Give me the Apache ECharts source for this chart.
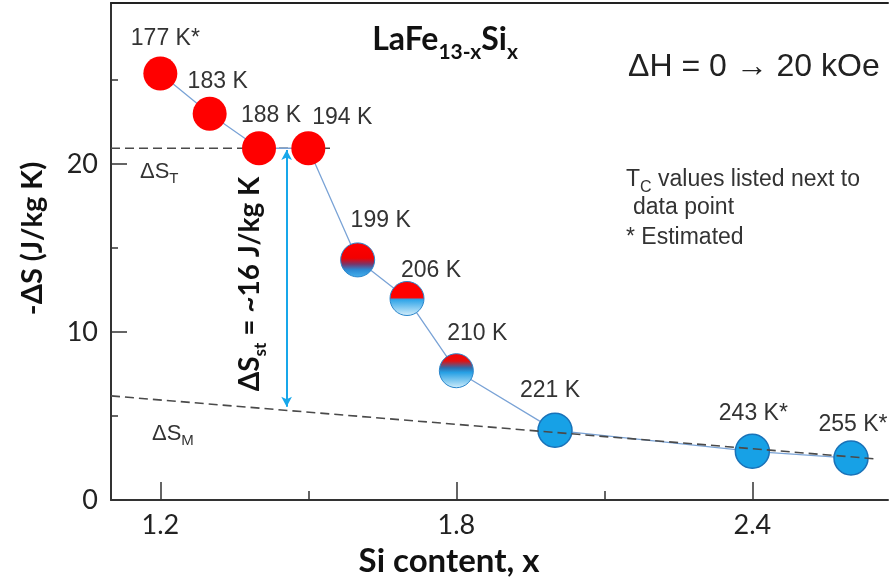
<!DOCTYPE html>
<html><head><meta charset="utf-8">
<script src="https://cdn.jsdelivr.net/npm/echarts@6/dist/echarts.min.js"></script>
<style>html,body{margin:0;padding:0;background:#fff}#c{width:891px;height:586px}</style>
</head><body><div id="c"></div>
<script>
// ---- data ----
const siContent = [1.2, 1.3, 1.4, 1.5, 1.6, 1.7, 1.8, 2.0, 2.4, 2.6];
const deltaS    = [25.4, 23.0, 20.95, 20.95, 14.3, 12.0, 7.7, 4.15, 2.9, 2.5];
const tcLabels  = ['177 K*', '183 K', '188 K', '194 K', '199 K', '206 K', '210 K', '221 K', '243 K*', '255 K*'];
const phase     = ['first', 'first', 'first', 'first', 'mixA', 'mixB', 'mixC', 'second', 'second', 'second'];
const xTickLabels = [1.2, 1.8, 2.4];
const xMinorTicks = [1.5, 2.1];
const yTickLabels = [0, 10, 20];
const yMinorTicks = [5, 15, 25];
const dsTLine   = [[1.1, 20.95], [1.55, 20.95]];
const dsMLine   = [[1.1, 6.2], [2.65, 2.45]];
const dsStArrow = [[1.456, 20.85], [1.456, 5.55]];

// ---- layout / style (kept separate from data) ----
const labelOffsets = [[5,-35],[8,-32],[12,-33],[34,-31],[23,-39],[24,-28],[21,-37],[-5,-40],[1,-38],[2,-33]];
const LBL = "'Liberation Sans', Arial, sans-serif";
const CAL = "Lato, 'Open Sans', sans-serif";
function grad(stops){ return {type:'linear', x:0, y:0, x2:0, y2:1, colorStops: stops.map(s=>({offset:s[0], color:s[1]}))}; }
const styles = {
  first:  {color:'#ff0000', borderWidth:0},
  second: {color:'#17a1e6', borderColor:'#1a72b8', borderWidth:1.5},
  mixA:   {color:grad([[0,'#ff0000'],[0.45,'#f20000'],[0.62,'#7a3468'],[0.78,'#2b88d2'],[1,'#45b2ee']]), borderColor:'#2a86cc', borderWidth:1},
  mixB:   {color:grad([[0,'#ff0000'],[0.47,'#ff0000'],[0.53,'#2ea4e8'],[1,'#d9f0fb']]), borderColor:'#2a86cc', borderWidth:1},
  mixC:   {color:grad([[0,'#ff0000'],[0.22,'#e41010'],[0.42,'#2d6fae'],[0.55,'#27a0e4'],[1,'#d2eefb']]), borderColor:'#2a86cc', borderWidth:1}
};
const points = siContent.map((x, i) => ({
  value: [x, deltaS[i]],
  itemStyle: styles[phase[i]],
  label: {offset: labelOffsets[i]}
}));

const chart = echarts.init(document.getElementById('c'), null, {renderer:'canvas'});
const xBase = {type:'value', min:1.1, max:2.675, gridIndex:0, splitLine:{show:false}};
const yBase = {type:'value', min:0, max:29.6, gridIndex:0, splitLine:{show:false}};
chart.setOption({
  animation:false,
  backgroundColor:'#ffffff',
  grid:{left:111, right:3, top:3, bottom:86, containLabel:false, outerBoundsMode:'none'},
  xAxis:[
    Object.assign({}, xBase, {
      position:'bottom',
      axisLine:{lineStyle:{color:'#333', width:2}},
      axisTick:{inside:true, length:18, customValues:xTickLabels, lineStyle:{color:'#333', width:1.5}},
      axisLabel:{customValues:xTickLabels, fontFamily:CAL, fontSize:27, color:'#222', margin:12, formatter:v=>v.toFixed(1)},
      name:'Si content, x', nameLocation:'middle', nameGap:45,
      nameTextStyle:{fontFamily:CAL, fontWeight:'bold', fontSize:33, color:'#111', padding:[0,101,0,0]}
    }),
    Object.assign({}, xBase, {
      position:'bottom',
      axisLine:{show:false},
      axisTick:{inside:true, length:9, customValues:xMinorTicks, lineStyle:{color:'#333', width:1.5}},
      axisLabel:{show:false}
    }),
    Object.assign({}, xBase, {
      position:'top',
      axisLine:{lineStyle:{color:'#222', width:2}},
      axisTick:{show:false}, axisLabel:{show:false}
    })
  ],
  yAxis:[
    Object.assign({}, yBase, {
      position:'left',
      axisLine:{lineStyle:{color:'#333', width:2}},
      axisTick:{inside:true, length:16, customValues:yTickLabels, lineStyle:{color:'#333', width:1.5}},
      axisLabel:{customValues:yTickLabels, fontFamily:CAL, fontSize:27, color:'#222', margin:13},
      name:'-ΔS (J/kg K)', nameLocation:'middle', nameRotate:90, nameGap:64,
      nameTextStyle:{fontFamily:CAL, fontWeight:'bold', fontSize:29, color:'#111', padding:[0,0,0,26]}
    }),
    Object.assign({}, yBase, {
      position:'left',
      axisLine:{show:false},
      axisTick:{inside:true, length:7, customValues:yMinorTicks, lineStyle:{color:'#333', width:1.5}},
      axisLabel:{show:false}
    })
  ],
  series:[
    {type:'line', name:'ΔS_T', data:dsTLine, symbol:'none', z:1, silent:true,
     lineStyle:{color:'#4a4a4a', width:1.6, type:[9,5]}},
    {type:'line', name:'points', data:points, z:2, symbol:'circle', symbolSize:34, showAllSymbol:true,
     lineStyle:{color:'#7aa3d6', width:1.3},
     label:{show:true, position:'inside', fontFamily:LBL, fontSize:23, color:'#333',
            formatter:p=>tcLabels[p.dataIndex]},
     emphasis:{disabled:true}},
    {type:'line', name:'ΔS_M', data:dsMLine, symbol:'none', z:3, silent:true,
     lineStyle:{color:'#4a4a4a', width:1.6, type:[9,5]}},
    {type:'line', name:'arrow', data:[], z:4,
     markLine:{silent:true, symbol:['arrow','arrow'], symbolSize:[8,10], label:{show:false},
               lineStyle:{color:'#18a7ea', width:2, type:'solid'},
               data:[[{coord:dsStArrow[0]},{coord:dsStArrow[1]}]]}}
  ],
  graphic:[
    {type:'text', x:445, y:40, style:{
      text:'{m|LaFe}{s|13-x}{m|Si}{s|x}', align:'center', verticalAlign:'middle', textAlign:'center', textVerticalAlign:'middle',
      rich:{m:{fontFamily:CAL, fontWeight:'bold', fontSize:32, lineHeight:45, fill:'#111'},
            s:{fontFamily:CAL, fontWeight:'bold', fontSize:21, lineHeight:21, verticalAlign:'bottom', fill:'#111'}}}},
    {type:'text', x:628, y:67, style:{
      text:'ΔH = 0 → 20 kOe', font:"32px 'Liberation Sans', Arial, sans-serif", fill:'#222',
      align:'left', verticalAlign:'middle', textAlign:'left', textVerticalAlign:'middle'}},
    {type:'text', x:626, y:180, style:{
      text:'{m|T}{s|C}{m| values listed next to}', align:'left', verticalAlign:'middle', textAlign:'left', textVerticalAlign:'middle',
      rich:{m:{fontFamily:LBL, fontSize:23, lineHeight:31, fill:'#333'},
            s:{fontFamily:LBL, fontSize:16, lineHeight:16, verticalAlign:'bottom', fill:'#333'}}}},
    {type:'text', x:633, y:208, style:{
      text:'data point', font:"23px 'Liberation Sans', Arial, sans-serif", fill:'#333',
      align:'left', verticalAlign:'middle', textAlign:'left', textVerticalAlign:'middle'}},
    {type:'text', x:626, y:238, style:{
      text:'* Estimated', font:"23px 'Liberation Sans', Arial, sans-serif", fill:'#333',
      align:'left', verticalAlign:'middle', textAlign:'left', textVerticalAlign:'middle'}},
    {type:'text', x:140, y:172, style:{
      text:'{m|ΔS}{s|T}', align:'left', verticalAlign:'middle', textAlign:'left', textVerticalAlign:'middle',
      rich:{m:{fontFamily:LBL, fontSize:22, lineHeight:29, fill:'#333'},
            s:{fontFamily:LBL, fontSize:15, lineHeight:15, verticalAlign:'bottom', fill:'#333'}}}},
    {type:'text', x:152, y:434, style:{
      text:'{m|ΔS}{s|M}', align:'left', verticalAlign:'middle', textAlign:'left', textVerticalAlign:'middle',
      rich:{m:{fontFamily:LBL, fontSize:22, lineHeight:29, fill:'#333'},
            s:{fontFamily:LBL, fontSize:15, lineHeight:15, verticalAlign:'bottom', fill:'#333'}}}},
    {type:'text', x:250, y:284, rotation:Math.PI/2, style:{
      text:'{m|ΔS}{s|st}{m| = ~16 J/kg K}', align:'center', verticalAlign:'middle', textAlign:'center', textVerticalAlign:'middle',
      rich:{m:{fontFamily:CAL, fontWeight:'bold', fontSize:28, lineHeight:38, fill:'#111'},
            s:{fontFamily:CAL, fontWeight:'bold', fontSize:17, lineHeight:17, verticalAlign:'bottom', fill:'#111'}}}}
  ]
});
</script></body></html>
